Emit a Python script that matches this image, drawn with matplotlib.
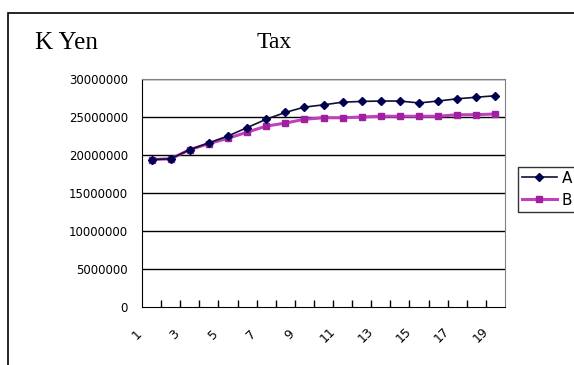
import matplotlib.pyplot as plt
import matplotlib.transforms as mtransforms
from matplotlib.patches import Rectangle

periods = list(range(1, 20))
tax_a = [19400000, 19500000, 20700000, 21600000, 22500000, 23600000, 24700000,
         25600000, 26300000, 26600000, 26950000, 27050000, 27100000, 27100000,
         26850000, 27100000, 27400000, 27600000, 27800000]
tax_b = [19400000, 19500000, 20700000, 21500000, 22200000, 23000000, 23800000,
         24200000, 24700000, 24900000, 24900000, 25000000, 25100000, 25100000,
         25100000, 25100000, 25300000, 25300000, 25400000]
y_ticks = [0, 5000000, 10000000, 15000000, 20000000, 25000000, 30000000]

fig = plt.figure(figsize=(5.74, 3.65), dpi=100)
ax = fig.add_axes([142 / 574, 1 - 307 / 365, 363 / 574, 228 / 365])

# outer chart frame (only left/top edges fall inside the picture)
fig.add_artist(Rectangle((8 / 574, -0.5), 1.5, 0.5 + 1 - 13 / 365,
                         transform=fig.transFigure, fill=False,
                         edgecolor="black", linewidth=1.2))

x = list(range(len(periods)))
ax.plot(x, tax_b, color="#c040c0", linewidth=2.2, marker="s", markersize=5,
        markerfacecolor="#a020a0", markeredgecolor="#a020a0", label="B", zorder=3)
ax.plot(x, tax_a, color="#101030", linewidth=1.2, marker="D", markersize=4,
        markerfacecolor="#000050", markeredgecolor="#000050", label="A", zorder=4)

ax.set_xlim(-0.5, len(periods) - 0.5)
ax.set_ylim(0, 30000000)
ax.set_yticks(y_ticks)
ax.set_yticklabels([str(v) for v in y_ticks], fontsize=8.5, family="DejaVu Sans")
ax.tick_params(axis="y", length=0, pad=10)
for v in y_ticks[1:]:
    ax.axhline(v, color="black", linewidth=1, zorder=1)

ax.set_xticks([i + 0.5 for i in x[:-1]], minor=True)
ax.set_xticks(x[::2])
ax.set_xticklabels([str(p) for p in periods[::2]], rotation=45, ha="center",
                   va="center", fontsize=9, family="DejaVu Sans")
ax.tick_params(axis="x", which="major", length=0, pad=20)
ax.tick_params(axis="x", which="minor", direction="in", length=5, width=1)
shift = mtransforms.ScaledTranslation(-15 / 100, 0, fig.dpi_scale_trans)
for lbl in ax.get_xticklabels():
    lbl.set_transform(lbl.get_transform() + shift)

ax.spines["left"].set_color("black")
ax.spines["bottom"].set_color("black")
ax.spines["top"].set_color("#808080")
ax.spines["right"].set_color("#808080")

fig.text(35 / 574, 1 - 43 / 365, "K Yen", fontsize=18, family="Liberation Serif",
         va="center")
fig.text(257 / 574, 1 - 43 / 365, "Tax", fontsize=17, family="Liberation Serif",
         va="center")

handles, labels = ax.get_legend_handles_labels()
leg = fig.legend(handles[::-1], labels[::-1], loc="upper left",
                 bbox_to_anchor=(518 / 574, 1 - 167 / 365), frameon=True,
                 fancybox=False, edgecolor="black", fontsize=11,
                 handlelength=2.3, handletextpad=0.3, borderpad=0.25,
                 labelspacing=0.45, borderaxespad=0)
leg.get_frame().set_linewidth(1)

fig.savefig("out.png", dpi=100)
